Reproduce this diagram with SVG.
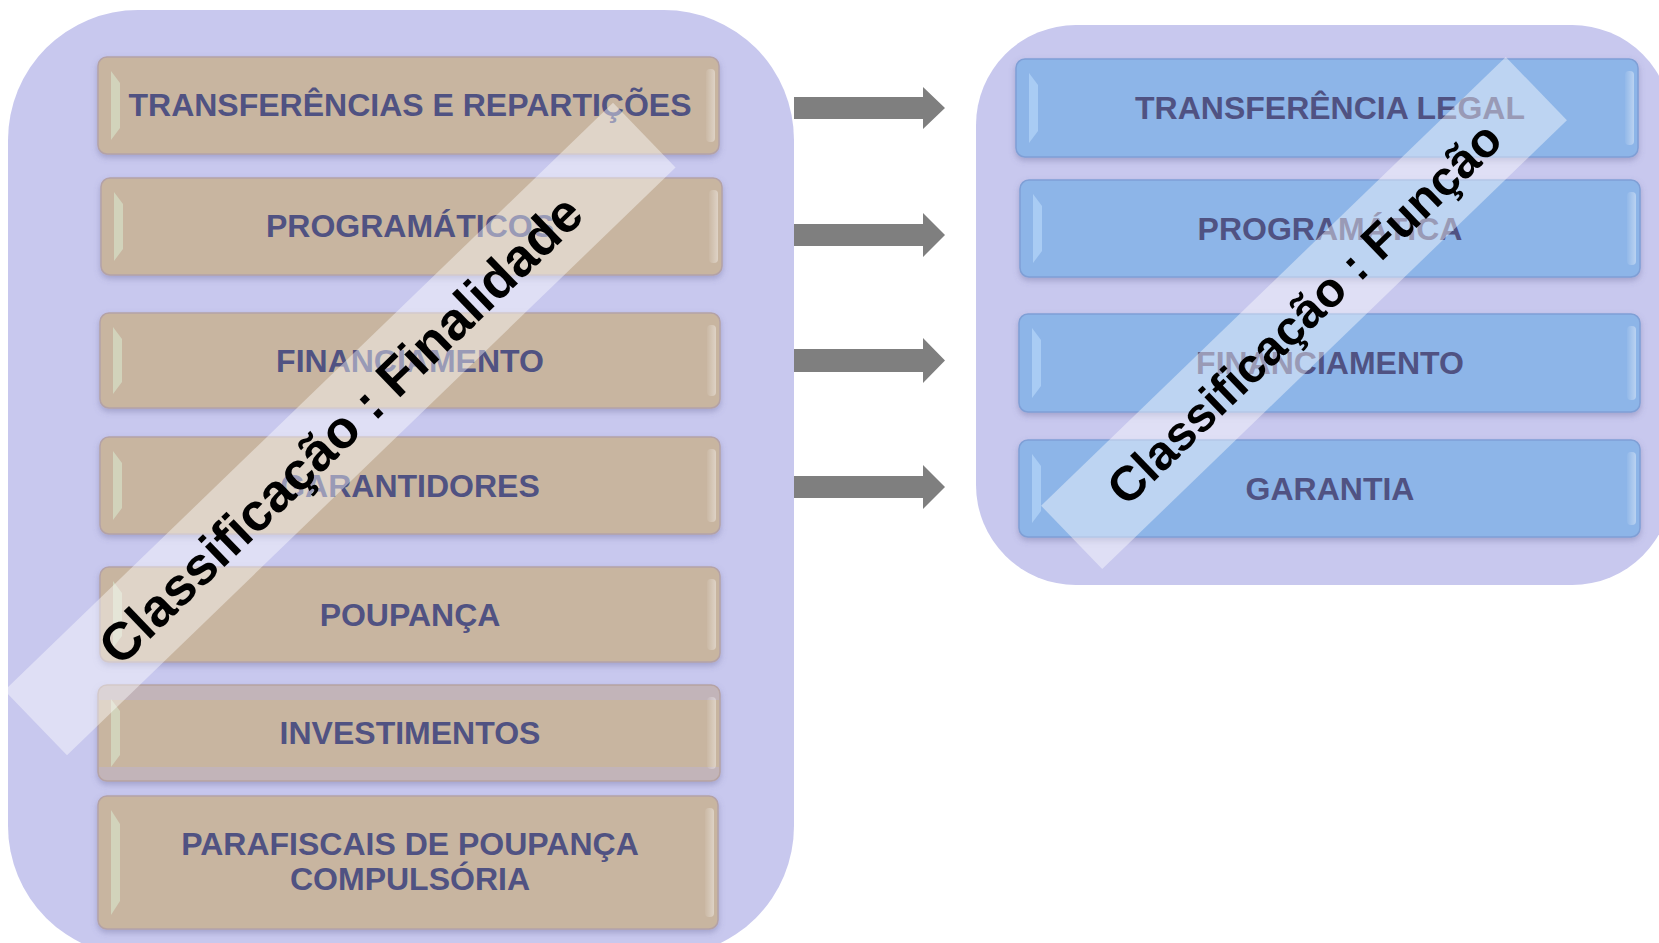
<svg xmlns="http://www.w3.org/2000/svg" width="1659" height="943" viewBox="0 0 1659 943">
<defs>
<filter id="sh" x="-5%" y="-10%" width="110%" height="130%">
<feDropShadow dx="0" dy="3" stdDeviation="3" flood-color="#5a5a8a" flood-opacity="0.35"/>
</filter>
<linearGradient id="hlr" x1="0" y1="0" x2="1" y2="0">
<stop offset="0" stop-color="#ffffff" stop-opacity="0.05"/>
<stop offset="1" stop-color="#ffffff" stop-opacity="0.4"/>
</linearGradient>
</defs>
<style>
.cont{fill:#c8c8ee;}
.tan{fill:#c8b5a0;stroke:#b4a2a6;stroke-width:1.5;filter:url(#sh);}
.blue{fill:#8db5e8;stroke:#7f9fd6;stroke-width:1.5;filter:url(#sh);}
.hlT{fill:#d3d8c0;fill-opacity:0.85;}
.hlB{fill:#a9ccf4;}
.hlR{fill:url(#hlr);}
.lbl{font-family:"Liberation Sans",Arial,sans-serif;font-weight:bold;font-size:32px;fill:#505282;text-anchor:middle;}
.band{fill:#ffffff;fill-opacity:0.42;}
.btxt{font-family:"Liberation Sans",Arial,sans-serif;font-weight:bold;fill:#000000;text-anchor:middle;}
.arr{fill:#7f7f7f;}
</style>
<rect width="1659" height="943" fill="#ffffff"/>
<g id="container-left"><rect class="cont" x="8" y="10" width="786" height="946" rx="130" ry="130"/></g>
<g id="container-right"><rect class="cont" x="976" y="25" width="696" height="560" rx="100" ry="100"/></g>

<g id="n1" transform="translate(98,57)">
<rect class="tan" width="621" height="97" rx="9"/>
<path class="hlT" d="M13,14 L22,26 L22,71 L13,83 Z"/>
<rect class="hlR" x="608" y="12" width="9" height="73" rx="4"/>
<text class="lbl" x="312" y="59">TRANSFERÊNCIAS E REPARTIÇÕES</text>
</g>
<g id="n2" transform="translate(101,178)">
<rect class="tan" width="621" height="97" rx="9"/>
<path class="hlT" d="M13,14 L22,26 L22,71 L13,83 Z"/>
<rect class="hlR" x="608" y="12" width="9" height="73" rx="4"/>
<text class="lbl" x="309" y="59">PROGRAMÁTICOS</text>
</g>
<g id="n3" transform="translate(100,313)">
<rect class="tan" width="620" height="95" rx="9"/>
<path class="hlT" d="M13,14 L22,26 L22,69 L13,81 Z"/>
<rect class="hlR" x="607" y="12" width="9" height="71" rx="4"/>
<text class="lbl" x="310" y="59">FINANCIAMENTO</text>
</g>
<g id="n4" transform="translate(100,437)">
<rect class="tan" width="620" height="97" rx="9"/>
<path class="hlT" d="M13,14 L22,26 L22,71 L13,83 Z"/>
<rect class="hlR" x="607" y="12" width="9" height="73" rx="4"/>
<text class="lbl" x="310" y="60">GARANTIDORES</text>
</g>
<g id="n5" transform="translate(100,567)">
<rect class="tan" width="620" height="95" rx="9"/>
<path class="hlT" d="M13,14 L22,26 L22,69 L13,81 Z"/>
<rect class="hlR" x="607" y="12" width="9" height="71" rx="4"/>
<text class="lbl" x="310" y="59">POUPANÇA</text>
</g>
<g id="n6" transform="translate(98,685)">
<rect class="tan" width="622" height="96" rx="9"/>
<path d="M9,1 H613 A8,8 0 0 1 621,9 V15 H1 V9 A8,8 0 0 1 9,1 Z" fill="#c2b4b9"/>
<path d="M1,82 H621 V87 A8,8 0 0 1 613,95 H9 A8,8 0 0 1 1,87 Z" fill="#c2b4b9"/>
<path class="hlT" d="M13,14 L22,26 L22,70 L13,82 Z"/>
<rect class="hlR" x="609" y="12" width="9" height="72" rx="4"/>
<text class="lbl" x="312" y="59">INVESTIMENTOS</text>
</g>
<g id="n7" transform="translate(98,796)">
<rect class="tan" width="620" height="133" rx="9"/>
<path class="hlT" d="M13,14 L22,28 L22,105 L13,119 Z"/>
<rect class="hlR" x="607" y="12" width="9" height="109" rx="4"/>
<text class="lbl" x="312" y="59">PARAFISCAIS DE POUPANÇA</text>
<text class="lbl" x="312" y="94">COMPULSÓRIA</text>
</g>

<g id="r1" transform="translate(1016,59)">
<rect class="blue" width="622" height="98" rx="9"/>
<path class="hlB" d="M13,14 L22,26 L22,72 L13,84 Z"/>
<rect class="hlR" x="609" y="12" width="9" height="74" rx="4"/>
<text class="lbl" x="314" y="60">TRANSFERÊNCIA LEGAL</text>
</g>
<g id="r2" transform="translate(1020,180)">
<rect class="blue" width="620" height="97" rx="9"/>
<path class="hlB" d="M13,14 L22,26 L22,71 L13,83 Z"/>
<rect class="hlR" x="607" y="12" width="9" height="73" rx="4"/>
<text class="lbl" x="310" y="60">PROGRAMÁTICA</text>
</g>
<g id="r3" transform="translate(1019,314)">
<rect class="blue" width="621" height="98" rx="9"/>
<path class="hlB" d="M13,14 L22,26 L22,72 L13,84 Z"/>
<rect class="hlR" x="608" y="12" width="9" height="74" rx="4"/>
<text class="lbl" x="311" y="60">FINANCIAMENTO</text>
</g>
<g id="r4" transform="translate(1019,440)">
<rect class="blue" width="621" height="97" rx="9"/>
<path class="hlB" d="M13,14 L22,26 L22,71 L13,83 Z"/>
<rect class="hlR" x="608" y="12" width="9" height="73" rx="4"/>
<text class="lbl" x="311" y="60">GARANTIA</text>
</g>

<g id="connectors">
<path class="arr" d="M794,97 H923 V87 L945,108 L923,129 V119 H794 Z"/>
<path class="arr" d="M794,224 H923 V213 L945,235 L923,257 V246 H794 Z"/>
<path class="arr" d="M794,349 H923 V338 L945,360.5 L923,383 V372 H794 Z"/>
<path class="arr" d="M794,476 H923 V465 L945,487 L923,509 V498 H794 Z"/>
</g>

<g id="band-left" transform="translate(340,429) rotate(-44)">
<rect class="band" x="-423" y="-45" width="846" height="90"/>
<text class="btxt" x="0" y="19" font-size="53">Classificação : Finalidade</text>
</g>
<g id="band-right" transform="translate(1304,313) rotate(-44)">
<rect class="band" x="-323" y="-44" width="646" height="88"/>
<text class="btxt" x="0" y="17" font-size="48.5">Classificação : Função</text>
</g>
</svg>
